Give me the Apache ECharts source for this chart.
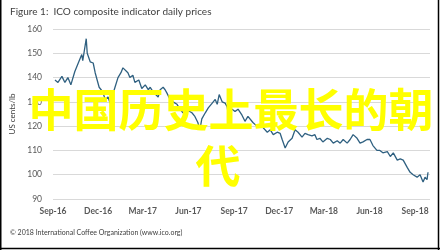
<!DOCTYPE html>
<html><head><meta charset="utf-8">
<script src="https://cdn.jsdelivr.net/npm/echarts@6/dist/echarts.min.js"></script>
<style>html,body{margin:0;padding:0;background:#fff}#c{width:440px;height:250px}</style>
</head><body><div id="c"></div>
<script>
var dates = ['2016-09-05','2016-09-11','2016-09-19','2016-09-25','2016-10-01','2016-10-07','2016-10-15','2016-10-23','2016-10-29','2016-10-31',
'2016-11-07','2016-11-09','2016-11-15','2016-11-21','2016-11-25','2016-11-29','2016-12-03','2016-12-07','2016-12-11','2016-12-15',
'2016-12-21','2016-12-25','2016-12-29','2017-01-04','2017-01-10','2017-01-16','2017-01-20','2017-01-24','2017-01-30','2017-02-03',
'2017-02-09','2017-02-13','2017-02-17','2017-02-21','2017-02-27','2017-03-06','2017-03-12','2017-03-16','2017-03-22','2017-03-26',
'2017-04-01','2017-04-05','2017-04-11','2017-04-15','2017-04-19','2017-04-25','2017-05-01','2017-05-09','2017-05-15','2017-05-21',
'2017-05-25','2017-05-31','2017-06-08','2017-06-14','2017-06-20','2017-06-24','2017-06-28','2017-07-05','2017-07-11','2017-07-19',
'2017-07-25','2017-07-29','2017-08-02','2017-08-08','2017-08-14','2017-08-18','2017-08-20','2017-08-28','2017-09-03','2017-09-07',
'2017-09-09','2017-09-17','2017-09-23','2017-09-29','2017-10-03','2017-10-09','2017-10-17','2017-10-23','2017-10-29','2017-11-07',
'2017-11-13','2017-11-19','2017-11-27','2017-12-03','2017-12-07','2017-12-13','2017-12-19','2017-12-27','2018-01-02','2018-01-08',
'2018-01-16','2018-01-22','2018-01-28','2018-02-05','2018-02-11','2018-02-15','2018-02-21','2018-02-27','2018-03-08','2018-03-14',
'2018-03-20','2018-03-28','2018-04-03','2018-04-09','2018-04-17','2018-04-23','2018-04-29','2018-05-03','2018-05-07','2018-05-13',
'2018-05-19','2018-05-27','2018-06-02','2018-06-08','2018-06-16','2018-06-22','2018-06-28','2018-07-07','2018-07-13','2018-07-19',
'2018-07-27','2018-08-02','2018-08-08','2018-08-16','2018-08-22','2018-08-28','2018-09-05','2018-09-11','2018-09-17','2018-09-21',
'2018-09-25','2018-09-27'];
var prices = [139,138,140.5,138,140,137,142.5,146.5,149.5,147,
156,150,146.5,146,142,139,136,135,133.7,131,
132,129.5,130,136,140,142,144,144.5,142,140,
141,138,138,139,135.5,137,135,136,134,134.5,
132,135,136,135,133.5,131,130,129,127,125.5,
125.5,126.5,125.5,124,121.5,118.5,123,125.5,127.5,129.5,
131,129,133,130,129.5,128,125.5,127,126,125.5,
127,124.5,122,124,123.5,121.5,120,120.5,119.5,117.5,
118.5,116.5,117.5,117,114.5,111,113.5,115,118.5,117.5,
115.5,117,116.5,116,116.5,114.5,115,113.5,115,114.5,
113,114,113,114.5,113,114.5,116.5,117,115,113,
113.5,114.5,114.5,112,110,110,109,109.5,107.5,109,
106,106.5,106,103,101,100,99,100,97,99,
98,101];
var tickDates = ['2016-09-01','2016-12-01','2017-03-01','2017-06-01','2017-09-01','2017-12-01','2018-03-01','2018-06-01','2018-09-01'];
var tickLabels = ['Sep-16','Dec-16','Mar-17','Jun-17','Sep-17','Dec-17','Mar-18','Jun-18','Sep-18'];
var yTicks = [90,100,110,120,130,140,150,160];
var xRange = ['2016-09-01','2018-10-01'];

function ts(s){ return Date.UTC(+s.slice(0,4), +s.slice(5,7)-1, +s.slice(8,10)); }
var tickTimes = tickDates.map(ts);
var chart = echarts.init(document.getElementById('c'), null, {renderer:'canvas'});
var F = 'Lato, "Open Sans", sans-serif';
chart.setOption({
  animation:false,
  backgroundColor:'#fff',
  grid:{left:53,right:10,top:29,bottom:51},
  title:{text:'Figure 1:  ICO composite indicator daily prices',left:5,top:2,
    textStyle:{fontFamily:F,fontSize:10,fontWeight:'normal',color:'#404040'}},
  xAxis:{type:'value',min:ts(xRange[0]),max:ts(xRange[1]),
    axisLine:{show:false},axisTick:{show:false},splitLine:{show:false},
    axisLabel:{customValues:tickTimes,margin:8,fontFamily:F,fontSize:8.5,fontWeight:'bold',color:'#595959',
      formatter:function(v){ var best=0,bd=Infinity; tickTimes.forEach(function(t,k){var d=Math.abs(t-v); if(d<bd){bd=d;best=k;}}); return tickLabels[best]; }}},
  yAxis:{type:'value',min:yTicks[0],max:yTicks[yTicks.length-1],interval:10,
    name:'US cents/lb',nameLocation:'middle',nameGap:34,nameRotate:90,
    nameTextStyle:{fontFamily:F,fontSize:8,color:'#404040'},
    axisLine:{show:false},axisTick:{show:false},
    splitLine:{lineStyle:{color:'#d9d9d9',width:1}},
    axisLabel:{margin:11,fontFamily:F,fontSize:8.5,color:'#595959'}},
  series:[{type:'line',symbol:'none',data:dates.map(function(d,i){return [ts(d),prices[i]];}),
    lineStyle:{color:'#2f6080',width:1.3}}],
  graphic:[
    {type:'text',left:10,top:229,style:{text:'© 2018 International Coffee Organization (www.ico.org)',fontFamily:F,fontSize:7,fill:'#404040'}},
    {type:'text',x:231,y:110,z:100,style:{text:'中国历史上最长的朝',fontFamily:'"Noto Sans CJK SC"',fontSize:45,fontWeight:'bold',fill:'#ffff00',align:'center',verticalAlign:'middle'}},
    {type:'text',x:218,y:166,z:100,style:{text:'代',fontFamily:'"Noto Sans CJK SC"',fontSize:45,fontWeight:'bold',fill:'#ffff00',align:'center',verticalAlign:'middle'}},
    {type:'line',shape:{x1:0.75,y1:0,x2:0.75,y2:250},style:{stroke:'#000',lineWidth:1.5}},
    {type:'line',shape:{x1:438.5,y1:0,x2:438.5,y2:250},style:{stroke:'#000',lineWidth:1.5}},
    {type:'line',shape:{x1:0,y1:248.5,x2:440,y2:248.5},style:{stroke:'#000',lineWidth:1.5}}
  ]
});
</script></body></html>
